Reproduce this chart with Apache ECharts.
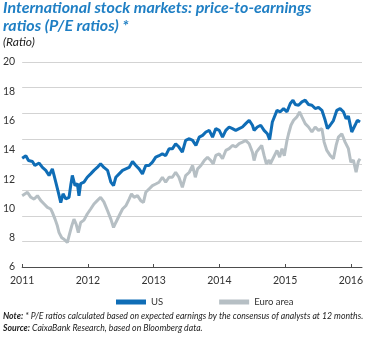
<!DOCTYPE html>
<html>
<head>
<meta charset="utf-8">
<script src="https://cdn.jsdelivr.net/npm/echarts@6/dist/echarts.min.js"></script>
<style>
html,body{margin:0;padding:0;background:#fff;}
#c{width:369px;height:338px;}
</style>
</head>
<body>
<div id="c"></div>
<script>
// Years (decimal) and P/E values
var usT = [2011.00,2011.056,2011.096,2011.156,2011.193,2011.258,2011.308,2011.359,2011.409,2011.459,2011.485,2011.511,2011.550,2011.587,2011.622,2011.663,2011.713,2011.738,2011.763,2011.804,2011.839,2011.864,2011.890,2011.940,2011.990,
2012.042,2012.092,2012.142,2012.193,2012.243,2012.299,2012.349,2012.390,2012.425,2012.475,2012.527,2012.577,2012.627,2012.679,2012.729,2012.779,2012.830,2012.880,2012.930,2012.982,
2013.032,2013.082,2013.133,2013.183,2013.234,2013.285,2013.335,2013.385,2013.437,2013.487,2013.543,2013.593,2013.643,2013.694,2013.745,2013.795,2013.846,2013.896,2013.946,2013.998,
2014.048,2014.098,2014.149,2014.199,2014.249,2014.301,2014.351,2014.401,2014.453,2014.503,2014.528,2014.578,2014.629,2014.680,2014.730,2014.765,2014.806,2014.877,2014.927,2014.977,
2015.029,2015.079,2015.120,2015.155,2015.205,2015.256,2015.306,2015.356,2015.408,2015.458,2015.508,2015.560,2015.610,2015.644,2015.685,2015.735,2015.787,2015.837,2015.887,2015.928,2015.963,
2016.014,2016.064,2016.099,2016.140];
var usV = [13.43,13.6,13.27,13.2,12.93,13.1,12.8,12.6,12.25,12.7,12.25,11.8,11.1,10.4,11.0,10.65,10.76,11.56,12.25,11.56,11.7,10.87,11.7,11.8,12.13,
12.36,12.6,12.8,13.05,12.8,12.6,11.8,11.56,12.13,12.36,12.6,12.7,12.8,13.2,12.93,12.7,12.36,12.93,12.93,13.16,
13.5,13.6,13.73,13.6,14.07,14.07,14.42,14.19,13.84,14.65,14.76,14.65,14.3,14.87,14.99,15.22,15.33,14.87,15.45,15.33,
14.87,15.33,15.56,15.45,15.33,15.45,15.56,15.79,16.02,15.68,15.33,15.56,15.68,15.33,15.1,14.7,15.9,16.7,16.6,16.82,
16.6,17.17,17.39,17.1,17.05,17.28,17.39,17.1,17.05,16.82,16.9,16.7,16.02,15.45,15.68,16.0,16.7,16.82,16.6,16.13,16.3,
15.22,15.68,16.02,15.9];

var euT = [2011.00,2011.030,2011.080,2011.132,2011.182,2011.232,2011.284,2011.334,2011.384,2011.435,2011.459,2011.500,2011.535,2011.561,2011.602,2011.637,2011.687,2011.713,2011.754,2011.788,2011.823,2011.854,2011.890,2011.940,2011.990,
2012.042,2012.092,2012.142,2012.193,2012.243,2012.299,2012.349,2012.390,2012.425,2012.475,2012.527,2012.577,2012.627,2012.663,2012.703,2012.754,2012.804,2012.845,2012.880,2012.930,2012.982,
2013.032,2013.082,2013.133,2013.183,2013.234,2013.285,2013.335,2013.385,2013.437,2013.487,2013.543,2013.593,2013.634,2013.669,2013.719,2013.770,2013.820,2013.870,2013.907,2013.946,2013.998,
2014.048,2014.098,2014.149,2014.199,2014.249,2014.301,2014.351,2014.401,2014.453,2014.503,2014.528,2014.563,2014.604,2014.644,2014.680,2014.715,2014.756,2014.776,2014.826,2014.877,2014.917,2014.953,2014.988,
2015.029,2015.053,2015.089,2015.129,2015.180,2015.220,2015.256,2015.306,2015.356,2015.408,2015.458,2015.508,2015.560,2015.594,2015.635,2015.685,2015.735,2015.776,2015.811,2015.863,2015.913,2015.963,
2016.000,2016.039,2016.080,2016.114,2016.140];
var euV = [10.87,10.99,11.1,10.76,10.64,10.87,10.53,10.3,10.07,9.96,9.73,9.27,8.81,8.35,8.0,7.9,7.67,8.13,8.81,9.27,8.9,8.35,9.04,9.2,9.62,
9.96,10.3,10.53,10.76,10.45,9.84,9.27,8.7,9.04,9.5,9.96,10.18,10.64,10.99,10.76,10.87,10.53,10.41,11.1,11.33,11.56,
11.67,11.79,12.13,11.79,12.13,12.13,12.47,12.13,11.44,12.24,12.47,12.93,12.13,12.7,12.93,13.27,13.5,13.27,13.05,13.62,13.73,
13.39,13.96,14.08,14.3,14.2,14.42,14.53,14.65,14.42,13.84,13.27,13.84,14.08,14.3,13.62,13.05,13.3,13.05,13.5,13.96,13.5,14.08,13.6,
14.65,15.1,15.68,16.02,16.25,16.59,16.25,15.79,15.56,15.22,15.56,15.33,15.45,14.53,13.96,13.62,13.39,14.3,14.87,15.1,14.53,14.08,
13.16,13.3,12.47,13.2,13.39];

var yearTicks = [2011,2012,2013,2014,2015,2016];
var seriesNames = ['US','Euro area'];

function zip(a,b){var r=[];for(var i=0;i<a.length;i++)r.push([a[i],b[i]]);return r;}

var blue = '#0f6db6';
var grey = '#b6bfc4';
var titleBlue = '#1f7fc4';

var chart = echarts.init(document.getElementById('c'), null, {renderer:'canvas'});
chart.setOption({
  animation:false,
  backgroundColor:'#fff',
  textStyle:{fontFamily:'Lato'},
  grid:{left:21,right:7,top:62,bottom:71,containLabel:false},
  xAxis:{
    type:'value',min:2011,max:2016.17,
    axisLine:{show:true,lineStyle:{color:'#4d4d4d',width:1}},
    axisTick:{show:true,inside:true,length:3,lineStyle:{color:'#4d4d4d'},customValues:yearTicks},
    axisLabel:{show:true,customValues:yearTicks,color:'#333',fontSize:10.5,fontFamily:'Lato',margin:8,formatter:function(v){return String(v);}},
    splitLine:{show:false}
  },
  yAxis:[{
    type:'value',min:6,max:20,interval:2,
    axisLine:{show:false},axisTick:{show:false},
    axisLabel:{color:'#333',fontSize:10.5,fontFamily:'Lato',margin:7},
    splitLine:{show:false}
  },{
    type:'value',min:0,max:8,interval:1,position:'left',
    axisLine:{show:false},axisTick:{show:false},axisLabel:{show:false},
    splitLine:{show:true,lineStyle:{color:'#d3d3d3',width:1}}
  }],
  legend:{
    data:seriesNames,left:111,top:292,itemWidth:30,itemHeight:5,itemGap:56,
    icon:'rect',
    textStyle:{color:'#333',fontSize:9.5,fontFamily:'Lato'}
  },
  series:[
    {name:seriesNames[1],type:'line',data:zip(euT,euV),showSymbol:false,symbol:'none',lineStyle:{color:grey,width:3},itemStyle:{color:grey},z:2},
    {name:seriesNames[0],type:'line',data:zip(usT,usV),showSymbol:false,symbol:'none',lineStyle:{color:blue,width:3},itemStyle:{color:blue},z:3}
  ],
  graphic:[
    {type:'text',left:3,top:0,style:{text:'International stock markets: price-to-earnings',fill:titleBlue,font:'italic bold 16px Lato'}},
    {type:'text',left:3,top:18,style:{text:'ratios (P/E ratios) *',fill:titleBlue,font:'italic bold 16px Lato'}},
    {type:'text',left:3,top:36,style:{text:'(Ratio)',fill:'#222',font:'italic 12px Lato'}},
    {type:'text',left:3,top:312,style:{rich:{b:{font:'italic bold 8.7px Lato',fill:'#222'},n:{font:'italic 8.7px Lato',fill:'#222'}},text:'{b|Note:}{n| * P/E ratios calculated based on expected earnings by the consensus of analysts at 12 months.}'}},
    {type:'text',left:3,top:324,style:{rich:{b:{font:'italic bold 8.7px Lato',fill:'#222'},n:{font:'italic 8.7px Lato',fill:'#222'}},text:'{b|Source:}{n| CaixaBank Research, based on Bloomberg data.}'}}
  ]
});
</script>
</body>
</html>
